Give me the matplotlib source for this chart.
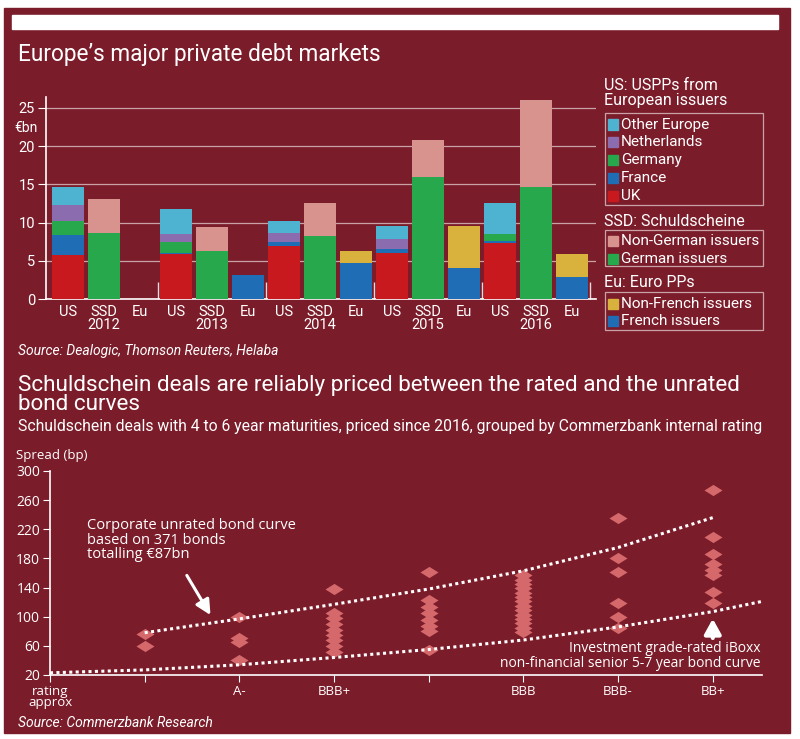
import matplotlib.pyplot as plt
from matplotlib.patches import Rectangle
from matplotlib.path import Path

W, H = 800, 739
BG = '#7b1c2a'
TITLE_FONT = ['Roboto', 'DejaVu Sans']
BODY_FONT = ['Open Sans', 'DejaVu Sans']

# ---- top chart data (EUR bn) ----
years = ['2012', '2013', '2014', '2015', '2016']
us_uk = [5.8, 5.9, 6.9, 6.0, 7.3]
us_france = [2.6, 0.1, 0.5, 0.5, 0.3]
us_germany = [1.8, 1.5, 0.0, 0.0, 0.9]
us_netherlands = [2.1, 1.0, 1.2, 1.4, 0.0]
us_other = [2.4, 3.3, 1.6, 1.6, 4.1]
ssd_german = [8.6, 6.3, 8.3, 16.0, 14.6]
ssd_non_german = [4.5, 3.1, 4.3, 4.8, 11.4]
eu_french = [0.0, 3.2, 4.7, 4.0, 2.9]
eu_non_french = [0.0, 0.0, 1.6, 5.5, 3.0]

# ---- bottom chart data (spread, bp) ----
rating_labels = ['rating\napprox', '', 'A-', 'BBB+', '', 'BBB', 'BBB-', 'BB+']
deal_spreads = {
    1: [76, 60],
    2: [100, 71, 65, 40],
    3: [138, 105, 98, 90, 82, 75, 68, 60, 52],
    4: [162, 123, 114, 105, 96, 87, 80, 55],
    5: [157, 151, 145, 139, 133, 127, 121, 115, 109, 103, 97, 91, 85, 79],
    6: [235, 181, 161, 119, 100, 85],
    7: [274, 210, 186, 172, 164, 157, 134, 119],
}
unrated_x = [1, 2, 3, 4, 5, 6, 7]
unrated_y = [78, 97, 117, 138, 163, 195, 236]
rated_x = [0, 1, 2, 3, 4, 5, 6, 7, 7.52]
rated_y = [23, 27, 34, 44, 55, 68, 86, 107, 121]

C = {'uk': '#c8191f', 'france': '#1f6db5', 'germany': '#27a84c',
     'neth': '#8b6cae', 'other': '#4db3d1', 'nonger': '#d9938f',
     'nonfr': '#d8b23c'}


def fx(x):
    return x / W


def fy(y):
    return 1 - y / H


fig = plt.figure(figsize=(8, 7.39), dpi=100, facecolor='white')
fig.patches.append(Rectangle((fx(4), fy(733)), fx(786), 725 / H,
                             transform=fig.transFigure, color=BG, zorder=-10))
fig.patches.append(Rectangle((fx(12), fy(29)), fx(766), 14 / H,
                             transform=fig.transFigure, color='white', zorder=-9))

fig.text(fx(18), fy(55), 'Europe\u2019s major private debt markets', color='white',
         fontsize=16.3, family=TITLE_FONT, va='center')

# ---- top bar chart ----
ax = fig.add_axes([fx(46), fy(299), fx(550), 202.5 / H])
ax.set_facecolor('none')
n = len(years)
xs_us = [3 * i for i in range(n)]
xs_ssd = [3 * i + 1 for i in range(n)]
xs_eu = [3 * i + 2 for i in range(n)]
bw = 0.89

bottom = [0.0] * n
for vals, key in [(us_uk, 'uk'), (us_france, 'france'), (us_germany, 'germany'),
                  (us_netherlands, 'neth'), (us_other, 'other')]:
    ax.bar(xs_us, vals, bw, bottom=bottom, color=C[key], zorder=3)
    bottom = [b + v for b, v in zip(bottom, vals)]
ax.bar(xs_ssd, ssd_german, bw, color=C['germany'], zorder=3)
ax.bar(xs_ssd, ssd_non_german, bw, bottom=ssd_german, color=C['nonger'], zorder=3)
ax.bar(xs_eu, eu_french, bw, color=C['france'], zorder=3)
ax.bar(xs_eu, eu_non_french, bw, bottom=eu_french, color=C['nonfr'], zorder=3)

ax.set_xlim(-0.61, 14.67)
ax.set_ylim(0, 26.5)
ax.set_yticks([0, 5, 10, 15, 20, 25])
ax.grid(axis='y', color='#c9a2a6', linewidth=0.9, zorder=0)
xt = []
xl = []
for i, y in enumerate(years):
    xt += [3 * i, 3 * i + 1, 3 * i + 2]
    xl += ['US', 'SSD\n' + y, 'Eu']
ax.set_xticks(xt)
ax.set_xticklabels(xl, family=TITLE_FONT, linespacing=0.95)
ax.set_xticks([2.5, 5.5, 8.5, 11.5, 14.5], minor=True)
ax.tick_params(axis='x', which='major', length=0, colors='white', labelsize=10.5, pad=4)
ax.tick_params(axis='x', which='minor', direction='in', length=12, width=1, color='#e8d8da')
ax.tick_params(axis='y', length=6, width=0.8, colors='white', labelsize=10.5, pad=2)
for lab in ax.get_yticklabels():
    lab.set_family(TITLE_FONT)
for s in ['top', 'right']:
    ax.spines[s].set_visible(False)
ax.spines['left'].set_color('white')
ax.spines['bottom'].set_color('white')
ax.spines['left'].set_linewidth(1.2)
ax.spines['bottom'].set_linewidth(1.2)
fig.text(fx(14), fy(128), '\u20acbn', color='white', fontsize=10,
         family=TITLE_FONT, va='center')

# ---- legend ----
legend_groups = [
    ('US: USPPs from\nEuropean issuers', 93, 113, 205,
     [('Other Europe', C['other']), ('Netherlands', C['neth']), ('Germany', C['germany']),
      ('France', C['france']), ('UK', C['uk'])]),
    ('SSD: Schuldscheine', 222, 230, 266,
     [('Non-German issuers', C['nonger']), ('German issuers', C['germany'])]),
    ('Eu: Euro PPs', 283, 292, 330,
     [('Non-French issuers', C['nonfr']), ('French issuers', C['france'])]),
]
for title, ty, box_top, box_bot, items in legend_groups:
    fig.text(fx(604), fy(ty), title, color='white', fontsize=11.5,
             family=TITLE_FONT, va='center', linespacing=0.95)
    fig.patches.append(Rectangle((fx(605), fy(box_bot)), fx(158), (box_bot - box_top) / H,
                                 transform=fig.transFigure, fill=False,
                                 edgecolor='#c9a2a6', linewidth=0.9))
    step = 17.8
    y0 = box_top + 11.5
    for k, (lab, col) in enumerate(items):
        yy = y0 + k * step
        fig.patches.append(Rectangle((fx(608), fy(yy + 5)), fx(10), 10 / H,
                                     transform=fig.transFigure, color=col))
        fig.text(fx(621), fy(yy), lab, color='white', fontsize=11,
                 family=TITLE_FONT, va='center')

fig.text(fx(18), fy(351), 'Source: Dealogic, Thomson Reuters, Helaba', color='white',
         fontsize=10, style='italic', family=TITLE_FONT, va='center')

# ---- second panel titles ----
fig.text(fx(18), fy(395), 'Schuldschein deals are reliably priced between the rated and the unrated\nbond curves',
         color='white', fontsize=16.2, family=TITLE_FONT, va='center', linespacing=0.9)
fig.text(fx(18), fy(426), 'Schuldschein deals with 4 to 6 year maturities, priced since 2016, grouped by Commerzbank internal rating',
         color='white', fontsize=11.3, family=TITLE_FONT, va='center')
fig.text(fx(16), fy(455), 'Spread (bp)', color='white', fontsize=9.5,
         family=BODY_FONT, va='center')

# ---- bottom scatter chart ----
bx = fig.add_axes([fx(50), fy(675), fx(712), 204 / H])
bx.set_facecolor('none')
diamond = Path([(-1, 0), (0, 0.62), (1, 0), (0, -0.62), (-1, 0)],
               [Path.MOVETO, Path.LINETO, Path.LINETO, Path.LINETO, Path.CLOSEPOLY])
for pos, vals in deal_spreads.items():
    bx.plot([pos] * len(vals), vals, linestyle='none', marker=diamond,
            markersize=13, color='#d5686b', markeredgewidth=0, zorder=3)
for xs_, ys_ in [(unrated_x, unrated_y), (rated_x, rated_y)]:
    bx.plot(xs_, ys_, color='white', linewidth=2.2, linestyle=(0, (1, 1.1)),
            dash_capstyle='butt', zorder=4)

bx.set_xlim(0, 7.52)
bx.set_ylim(20, 300)
bx.set_yticks(range(20, 301, 40))
bx.set_xticks(range(len(rating_labels)))
bx.set_xticklabels(rating_labels, family=BODY_FONT, linespacing=0.8)
bx.tick_params(axis='x', length=5, width=0.8, colors='white', labelsize=9.5, pad=2)
bx.tick_params(axis='y', length=5, width=0.8, colors='white', labelsize=10, pad=2)
for s in ['top', 'right']:
    bx.spines[s].set_visible(False)
bx.spines['left'].set_color('white')
bx.spines['bottom'].set_color('white')
bx.spines['left'].set_linewidth(1.2)
bx.spines['bottom'].set_linewidth(1.2)
for lab in bx.get_yticklabels():
    lab.set_family(BODY_FONT)

bx.annotate('', xy=(1.71, 99), xytext=(1.43, 160),
            arrowprops=dict(arrowstyle='-|>,head_length=0.9,head_width=0.45',
                            color='white', lw=2.2))
bx.text(0.39, 235, 'Corporate unrated bond curve\nbased on 371 bonds\ntotalling \u20ac87bn',
        color='white', fontsize=10.5, family=BODY_FONT, va='top', linespacing=0.95)
bx.annotate('', xy=(7, 101), xytext=(7, 67),
            arrowprops=dict(arrowstyle='-|>,head_length=0.9,head_width=0.5',
                            color='white', lw=3))
bx.text(7.5, 66, 'Investment grade-rated iBoxx\nnon-financial senior 5-7 year bond curve',
        color='white', fontsize=10, family=BODY_FONT, va='top', ha='right',
        linespacing=0.95)

fig.text(fx(18), fy(723), 'Source: Commerzbank Research', color='white',
         fontsize=10, style='italic', family=TITLE_FONT, va='center')

fig.savefig('out.png', dpi=100, facecolor='white')
